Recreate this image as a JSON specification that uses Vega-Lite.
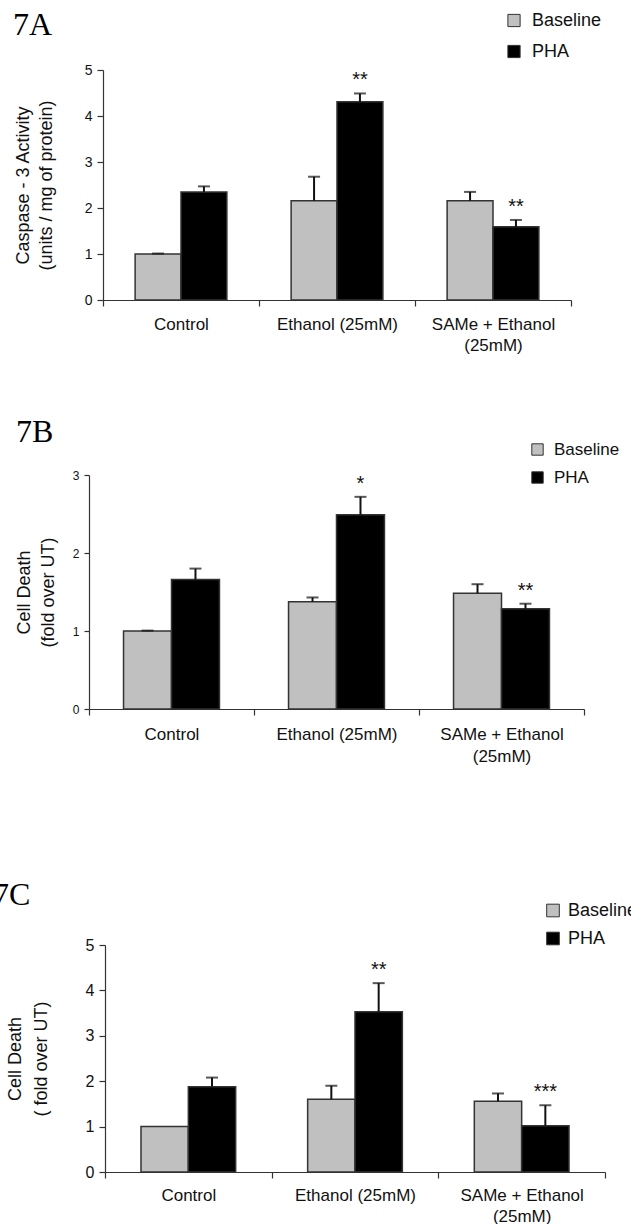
{
  "$schema": "https://vega.github.io/schema/vega-lite/v6.json",
  "padding": {"left": -7, "top": 8, "right": 0, "bottom": 0},
  "background": "white",
  "datasets": {
    "a": [
      {"cat": "Control", "series": "Baseline", "value": 1.0, "hi": 1.01, "sig": ""},
      {"cat": "Control", "series": "PHA", "value": 2.35, "hi": 2.47, "sig": ""},
      {"cat": "Ethanol (25mM)", "series": "Baseline", "value": 2.16, "hi": 2.68, "sig": ""},
      {"cat": "Ethanol (25mM)", "series": "PHA", "value": 4.31, "hi": 4.49, "sig": "**"},
      {"cat": "SAMe + Ethanol (25mM)", "series": "Baseline", "value": 2.16, "hi": 2.35, "sig": ""},
      {"cat": "SAMe + Ethanol (25mM)", "series": "PHA", "value": 1.59, "hi": 1.74, "sig": "**"}
    ],
    "b": [
      {"cat": "Control", "series": "Baseline", "value": 1.0, "hi": 1.005, "sig": ""},
      {"cat": "Control", "series": "PHA", "value": 1.66, "hi": 1.8, "sig": ""},
      {"cat": "Ethanol (25mM)", "series": "Baseline", "value": 1.375, "hi": 1.43, "sig": ""},
      {"cat": "Ethanol (25mM)", "series": "PHA", "value": 2.49, "hi": 2.72, "sig": "*"},
      {"cat": "SAMe + Ethanol (25mM)", "series": "Baseline", "value": 1.485, "hi": 1.6, "sig": ""},
      {"cat": "SAMe + Ethanol (25mM)", "series": "PHA", "value": 1.285, "hi": 1.35, "sig": "**"}
    ],
    "c": [
      {"cat": "Control", "series": "Baseline", "value": 1.0, "hi": null, "sig": ""},
      {"cat": "Control", "series": "PHA", "value": 1.88, "hi": 2.08, "sig": ""},
      {"cat": "Ethanol (25mM)", "series": "Baseline", "value": 1.6, "hi": 1.9, "sig": ""},
      {"cat": "Ethanol (25mM)", "series": "PHA", "value": 3.53, "hi": 4.16, "sig": "**"},
      {"cat": "SAMe + Ethanol (25mM)", "series": "Baseline", "value": 1.56, "hi": 1.73, "sig": ""},
      {"cat": "SAMe + Ethanol (25mM)", "series": "PHA", "value": 1.02, "hi": 1.47, "sig": "***"}
    ]
  },
  "config": {
    "view": {"stroke": null},
    "font": "Liberation Sans",
    "axis": {
      "domainColor": "#333", "tickColor": "#333", "domainWidth": 1.2, "tickWidth": 1.2,
      "labelColor": "#111", "titleColor": "#111", "titleFontWeight": "normal",
      "labelFont": "Liberation Sans", "titleFont": "Liberation Sans", "grid": false
    },
    "legend": {
      "labelFont": "Liberation Sans", "labelColor": "#111", "symbolType": "square",
      "symbolStrokeColor": "#333", "symbolStrokeWidth": 1, "padding": 0
    },
    "title": {"font": "Liberation Serif", "fontSize": 32, "fontWeight": "normal", "color": "#000", "anchor": "start", "frame": "group", "offset": 0, "baseline": "alphabetic"}
  },
  "resolve": {
    "scale": {"x": "independent", "y": "independent", "color": "independent", "xOffset": "independent"},
    "legend": {"color": "independent"},
    "axis": {"x": "independent", "y": "independent"}
  },
  "bounds": "flush",
  "spacing": 175,
  "vconcat": [
    {
      "width": 482, "height": 230,
      "data": {"name": "a"},
      "title": {"text": "7A", "dx": -76, "dy": 34},
      "encoding": {
        "x": {"field": "cat", "type": "nominal", "sort": null,
          "scale": {"type": "band", "paddingInner": 0, "paddingOuter": 0, "range": [14, 482]},
          "axis": {"title": null, "labelAngle": 0, "labelFontSize": 17, "labelPadding": 10, "tickSize": 6, "tickBand": "extent", "labelLineHeight": 21,
            "labelExpr": "datum.label == 'SAMe + Ethanol (25mM)' ? ['SAMe + Ethanol', '(25mM)'] : datum.label"}},
        "xOffset": {"field": "series", "type": "nominal", "sort": ["Baseline", "PHA"], "scale": {"paddingInner": 0, "paddingOuter": 0.7}},
        "y": {"field": "value", "type": "quantitative", "scale": {"domain": [0, 5]},
          "axis": {"title": ["Caspase - 3 Activity", "(units / mg of protein)"], "values": [0, 1, 2, 3, 4, 5], "offset": -14,
            "labelFontSize": 14, "labelPadding": 5, "tickSize": 6, "titleFontSize": 18, "titleLineHeight": 23, "titlePadding": 29}}
      },
      "layer": [
        {
          "mark": {"type": "bar", "stroke": "#333", "strokeWidth": 1.5},
          "encoding": {
            "color": {"field": "series", "type": "nominal", "scale": {"domain": ["Baseline", "PHA"], "range": ["#c0c0c0", "#000000"]},
              "legend": {"title": null, "orient": "none", "legendX": 416, "legendY": -58.5, "symbolSize": 150, "labelFontSize": 18, "labelOffset": 9, "rowPadding": 13}}
          }
        },
        {
          "transform": [{"filter": "isValid(datum.hi)"}],
          "mark": {"type": "rule", "strokeWidth": 2, "color": "#111"},
          "encoding": {"y2": {"field": "hi"}}
        },
        {
          "transform": [{"filter": "isValid(datum.hi)"}],
          "mark": {"type": "tick", "thickness": 2, "size": 12, "color": "#111"},
          "encoding": {"y": {"field": "hi", "type": "quantitative"}}
        },
        {
          "transform": [{"filter": "datum.sig != ''"}],
          "mark": {"type": "text", "fontSize": 20, "dy": -7, "baseline": "alphabetic", "color": "#111"},
          "encoding": {"y": {"field": "hi", "type": "quantitative"}, "text": {"field": "sig"}}
        }
      ]
    },
    {
      "width": 495, "height": 234,
      "data": {"name": "b"},
      "title": {"text": "7B", "dx": -73, "dy": 12},
      "encoding": {
        "x": {"field": "cat", "type": "nominal", "sort": null,
          "scale": {"type": "band", "paddingInner": 0, "paddingOuter": 0, "range": [0, 495]},
          "axis": {"title": null, "labelAngle": 0, "labelFontSize": 17, "labelPadding": 11, "tickSize": 6, "tickBand": "extent", "labelLineHeight": 22,
            "labelExpr": "datum.label == 'SAMe + Ethanol (25mM)' ? ['SAMe + Ethanol', '(25mM)'] : datum.label"}},
        "xOffset": {"field": "series", "type": "nominal", "sort": ["Baseline", "PHA"], "scale": {"paddingInner": 0, "paddingOuter": 0.72}},
        "y": {"field": "value", "type": "quantitative", "scale": {"domain": [0, 3]},
          "axis": {"title": ["Cell Death", "(fold over UT)"], "values": [0, 1, 2, 3],
            "labelFontSize": 12, "labelPadding": 5, "tickSize": 5, "titleFontSize": 18, "titleLineHeight": 24, "titlePadding": 15}}
      },
      "layer": [
        {
          "mark": {"type": "bar", "stroke": "#333", "strokeWidth": 1.5},
          "encoding": {
            "color": {"field": "series", "type": "nominal", "scale": {"domain": ["Baseline", "PHA"], "range": ["#c0c0c0", "#000000"]},
              "legend": {"title": null, "orient": "none", "legendX": 440, "legendY": -34, "symbolSize": 130, "labelFontSize": 17, "labelOffset": 8, "rowPadding": 10}}
          }
        },
        {
          "transform": [{"filter": "isValid(datum.hi)"}],
          "mark": {"type": "rule", "strokeWidth": 2, "color": "#111"},
          "encoding": {"y2": {"field": "hi"}}
        },
        {
          "transform": [{"filter": "isValid(datum.hi)"}],
          "mark": {"type": "tick", "thickness": 2, "size": 12, "color": "#111"},
          "encoding": {"y": {"field": "hi", "type": "quantitative"}}
        },
        {
          "transform": [{"filter": "datum.sig != ''"}],
          "mark": {"type": "text", "fontSize": 20, "dy": -7, "baseline": "alphabetic", "color": "#111"},
          "encoding": {"y": {"field": "hi", "type": "quantitative"}, "text": {"field": "sig"}}
        }
      ]
    },
    {
      "width": 516, "height": 288,
      "data": {"name": "c"},
      "title": {"text": "7C", "dx": -96, "dy": 32},
      "encoding": {
        "x": {"field": "cat", "type": "nominal", "sort": null,
          "scale": {"type": "band", "paddingInner": 0, "paddingOuter": 0, "range": [16, 516]},
          "axis": {"title": null, "labelAngle": 0, "labelFontSize": 17, "labelPadding": 9, "tickSize": 6, "tickBand": "extent", "labelLineHeight": 21,
            "labelExpr": "datum.label == 'SAMe + Ethanol (25mM)' ? ['SAMe + Ethanol', '(25mM)'] : datum.label"}},
        "xOffset": {"field": "series", "type": "nominal", "sort": ["Baseline", "PHA"], "scale": {"paddingInner": 0, "paddingOuter": 0.76}},
        "y": {"field": "value", "type": "quantitative", "scale": {"domain": [0, 5], "range": [288, 61]},
          "axis": {"title": ["Cell Death", "( fold over UT)"], "values": [0, 1, 2, 3, 4, 5], "offset": -16,
            "labelFontSize": 16, "labelPadding": 5, "tickSize": 6, "titleFontSize": 18, "titleLineHeight": 26, "titlePadding": 35}}
      },
      "layer": [
        {
          "mark": {"type": "bar", "stroke": "#333", "strokeWidth": 1.5},
          "encoding": {
            "color": {"field": "series", "type": "nominal", "scale": {"domain": ["Baseline", "PHA"], "range": ["#c0c0c0", "#000000"]},
              "legend": {"title": null, "orient": "none", "legendX": 455, "legendY": 17.5, "symbolSize": 160, "labelFontSize": 18, "labelOffset": 6, "rowPadding": 10}}
          }
        },
        {
          "transform": [{"filter": "isValid(datum.hi)"}],
          "mark": {"type": "rule", "strokeWidth": 2, "color": "#111"},
          "encoding": {"y2": {"field": "hi"}}
        },
        {
          "transform": [{"filter": "isValid(datum.hi)"}],
          "mark": {"type": "tick", "thickness": 2, "size": 12, "color": "#111"},
          "encoding": {"y": {"field": "hi", "type": "quantitative"}}
        },
        {
          "transform": [{"filter": "datum.sig != ''"}],
          "mark": {"type": "text", "fontSize": 20, "dy": -7, "baseline": "alphabetic", "color": "#111"},
          "encoding": {"y": {"field": "hi", "type": "quantitative"}, "text": {"field": "sig"}}
        }
      ]
    }
  ]
}
